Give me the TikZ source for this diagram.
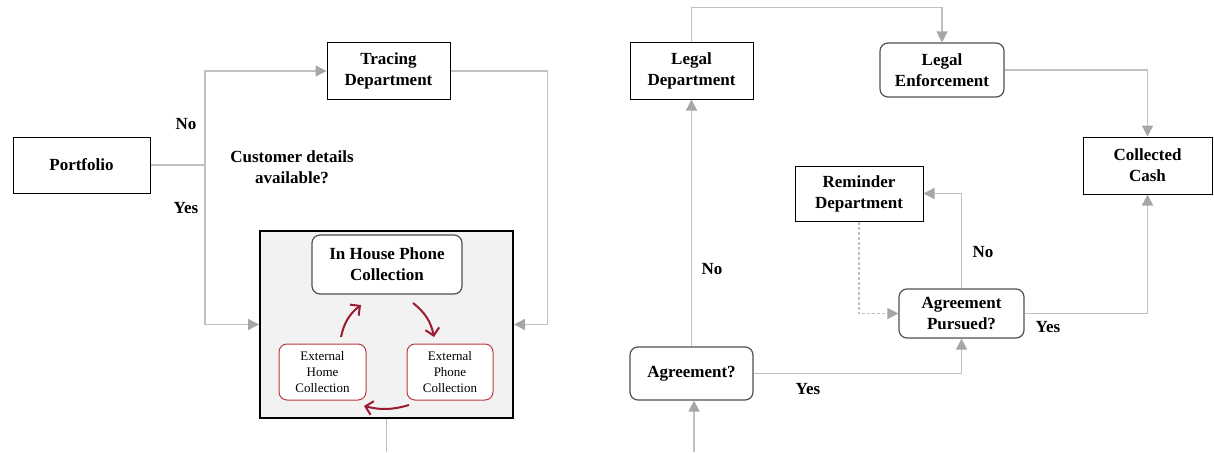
\documentclass[tikz,border=0pt]{standalone}
\usepackage{fontspec}
\setmainfont{Liberation Serif}
\usetikzlibrary{arrows.meta,calc}
\definecolor{lineg}{HTML}{C0C0C0}
\definecolor{headg}{HTML}{A6A6A6}
\definecolor{boxg}{HTML}{505050}
\definecolor{darkred}{HTML}{9B1B30}
\definecolor{extred}{HTML}{C0393E}
\definecolor{panel}{HTML}{F2F2F2}
\tikzset{
  sqbox/.style={draw=black, line width=1pt, fill=white, inner sep=0pt, align=center,
    font=\fontsize{17}{21}\selectfont\bfseries},
  rdbox/.style={draw=boxg, line width=1.2pt, fill=white, rounded corners=8pt, inner sep=0pt, align=center,
    font=\fontsize{17}{21}\selectfont\bfseries},
  extbox/.style={draw=extred, line width=1pt, fill=white, rounded corners=8pt, inner sep=0pt, align=center,
    font=\fontsize{13}{16}\selectfont},
  conn/.style={draw=lineg, line width=1.4pt},
  arr/.style={conn, -{Triangle[length=11pt,width=11pt,color=headg]}},
  dasharr/.style={draw=lineg, line width=1.2pt, densely dashed, -{Triangle[length=11pt,width=11pt,color=headg]}},
  redarr/.style={draw=darkred, line width=2pt, -{Straight Barb[length=7pt,width=14pt]}},
  lbl/.style={font=\fontsize{17}{21}\selectfont\bfseries, inner sep=0pt, align=center},
}
\begin{document}
\begin{tikzpicture}[x=1pt,y=-1pt]
\useasboundingbox (0,0) rectangle (1214,452);
% left part
\node[sqbox, minimum width=137pt, minimum height=56pt] (portfolio) at (81.5,165) {Portfolio};
\node[sqbox, minimum width=123pt, minimum height=56pt] (tracing) at (388.5,71) {Tracing\\Department};
\node[draw=black, line width=2pt, fill=panel, minimum width=253pt, minimum height=187pt, inner sep=0pt] (panelbox) at (386.5,324.5) {};
\node[rdbox, minimum width=150pt, minimum height=59pt] (inhouse) at (387,264.5) {In House Phone\\Collection};
\node[extbox, minimum width=87pt, minimum height=56pt] (exthome) at (322.5,372) {External\\Home\\Collection};
\node[extbox, minimum width=86pt, minimum height=56pt] (extphone) at (450,372) {External\\Phone\\Collection};

\coordinate (j1) at (205,165);
\draw[conn] (portfolio.east) -- (j1);
\draw[arr] (j1) |- (tracing.west);
\draw[arr] (j1) |- (panelbox.west);
\draw[arr] (tracing.east) -- ++(97,0) |- (panelbox.east);
\coordinate (pbot) at (386.5,452);
\draw[conn] (panelbox.south) -- (pbot);

\node[lbl] (lno1) at (186,124) {No};
\node[lbl] (lyes1) at (186,208) {Yes};
\node[lbl] (qcust) at (292,167) {Customer details\\available?};

\coordinate (r1a) at (341,337); \coordinate (r1b) at (361,305);
\coordinate (r2a) at (413,303); \coordinate (r2b) at (434,337);
\coordinate (r3a) at (409,405); \coordinate (r3b) at (364,406);
\draw[redarr] (r1a) to[bend left=20] (r1b);
\draw[redarr] (r2a) to[bend left=20] (r2b);
\draw[redarr] (r3a) to[bend left=15] (r3b);

% right part
\node[sqbox, minimum width=123pt, minimum height=56pt] (legal) at (691.5,71) {Legal\\Department};
\node[rdbox, minimum width=124pt, minimum height=54pt] (enforce) at (942,70) {Legal\\Enforcement};
\node[sqbox, minimum width=129pt, minimum height=57pt] (cash) at (1147.5,165.5) {Collected\\Cash};
\node[sqbox, minimum width=128pt, minimum height=55pt] (reminder) at (859,193.5) {Reminder\\Department};
\node[rdbox, minimum width=125pt, minimum height=49pt] (pursued) at (961.5,313.5) {Agreement\\Pursued?};
\node[rdbox, minimum width=123pt, minimum height=53pt] (agreement) at (691.5,373.5) {Agreement?};

\draw[arr] (legal.north) -- ++(0,-35) -| (enforce.north);
\draw[arr] (enforce.east) -| (cash.north);
\draw[arr] (agreement.north) -- (legal.south);
\coordinate (abot) at (694,452);
\draw[arr] (abot) -- (abot |- agreement.south);
\draw[arr] (agreement.east) -| (pursued.south);
\draw[arr] (pursued.north) |- (reminder.east);
\draw[dasharr] (reminder.south) |- (pursued.west);
\draw[arr] (pursued.east) -| (cash.south);

\node[lbl] (lno2) at (712,269) {No};
\node[lbl] (lyes2) at (808,389) {Yes};
\node[lbl] (lno3) at (983,252) {No};
\node[lbl] (lyes3) at (1048,327) {Yes};
\end{tikzpicture}
\end{document}
